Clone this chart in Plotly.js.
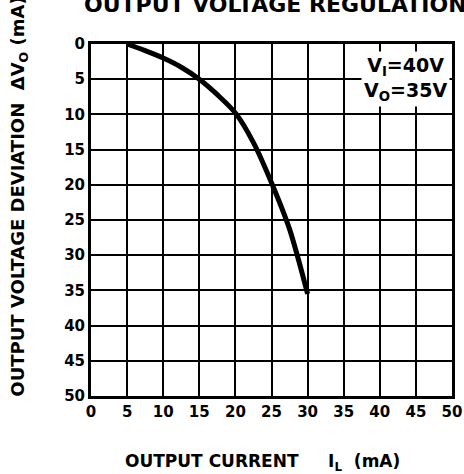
<!DOCTYPE html>
<html>
<head>
<meta charset="utf-8">
<script src="https://cdn.plot.ly/plotly-3.0.1.min.js"></script>
<style>html,body{margin:0;padding:0;background:#fff;}#chart{width:464px;height:474px;}</style>
</head>
<body>
<div id="chart"></div>
<script>
// Output current IL (mA)
var currentMA = [5, 7.5, 10, 12.5, 15, 17.5, 20, 22.5, 25, 27.5, 30];
// Output voltage deviation dVo (mA)
var deviation = [0, 0.95, 2.0, 3.3, 5.0, 7.2, 9.8, 14.0, 19.7, 26.3, 35.5];
var xTicks = [0, 5, 10, 15, 20, 25, 30, 35, 40, 45, 50];
var yTicks = [0, 5, 10, 15, 20, 25, 30, 35, 40, 45, 50];

var tickFont = {family: 'DejaVu Sans', size: 15, color: '#000', weight: 'bold'};
var data = [{
  x: currentMA, y: deviation, type: 'scatter', mode: 'lines',
  line: {color: '#000', width: 5, shape: 'spline', smoothing: 0.8},
  hoverinfo: 'skip'
}];
var layout = {
  width: 464, height: 474,
  margin: {l: 90.5, r: 12, t: 44, b: 78},
  paper_bgcolor: '#fff',
  showlegend: false,
  xaxis: {
    range: [0, 50], tickvals: xTicks, ticktext: xTicks.map(String),
    showgrid: true, gridcolor: '#000', gridwidth: 1.6,
    showline: true, linecolor: '#000', linewidth: 3, mirror: true,
    zeroline: false, ticks: '', tickfont: tickFont
  },
  yaxis: {
    range: [50, 0], tickvals: yTicks, ticktext: yTicks.map(String),
    showgrid: true, gridcolor: '#000', gridwidth: 1.6,
    showline: true, linecolor: '#000', linewidth: 3, mirror: true,
    zeroline: false, ticks: '', tickfont: tickFont
  },
  annotations: [
    {text: 'OUTPUT VOLTAGE REGULATION', xref: 'paper', yref: 'paper', x: 0.51, y: 1.112,
     xanchor: 'center', yanchor: 'middle', showarrow: false,
     font: {family: 'DejaVu Sans', size: 22, color: '#000', weight: 'bold'}},
    {text: 'OUTPUT VOLTAGE DEVIATION\u00A0\u00A0\u0394V<sub>O</sub>\u00A0(mA)', xref: 'paper', yref: 'paper',
     x: -0.198, y: 0.565, textangle: -90, xanchor: 'center', yanchor: 'middle', showarrow: false,
     font: {family: 'DejaVu Sans', size: 18, color: '#000', weight: 'bold'}},
    {text: 'OUTPUT CURRENT\u00A0\u00A0\u00A0\u00A0\u00A0I<sub>L</sub>\u00A0\u00A0(mA)', xref: 'paper', yref: 'paper', x: 0.09, y: -0.19,
     xanchor: 'left', yanchor: 'middle', showarrow: false,
     font: {family: 'DejaVu Sans', size: 17, color: '#000', weight: 'bold'}},
    {text: 'V<sub>I</sub>=40V<br>V<sub>O</sub>=35V', xref: 'x', yref: 'y', x: 49.7, y: 5.0,
     xanchor: 'right', yanchor: 'middle', showarrow: false, align: 'center',
     bgcolor: '#fff', borderpad: 2,
     font: {family: 'DejaVu Sans', size: 19, color: '#000', weight: 'bold'}}
  ]
};
Plotly.newPlot('chart', data, layout, {displayModeBar: false});
</script>
</body>
</html>
